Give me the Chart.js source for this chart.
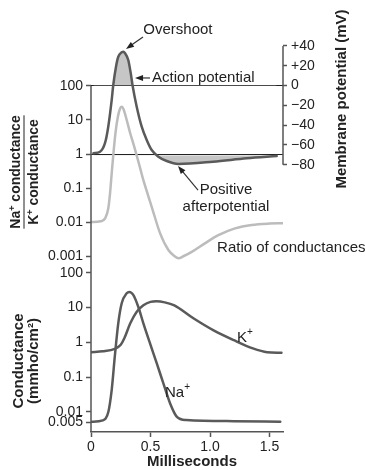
<!DOCTYPE html>
<html>
<head>
<meta charset="utf-8">
<script src="https://cdn.jsdelivr.net/npm/chart.js@4.4.0/dist/chart.umd.min.js"></script>
<style>
  html, body { margin: 0; padding: 0; background: #fff; }
  #chart { display: block; }
</style>
</head>
<body>
<canvas id="chart" width="365" height="470"></canvas>
<script>
// Action potential (membrane potential, mV) against time (ms)
const AP_MS = [0.02, 0.076, 0.118, 0.145, 0.174, 0.187, 0.21, 0.229, 0.258, 0.272, 0.286, 0.313, 0.334, 0.35, 0.384, 0.426, 0.468, 0.51, 0.566, 0.636, 0.734, 1.025, 1.308, 1.56];
const AP_MV = [-68.5, -66.9, -58, -41.6, -14.6, 0.5, 19, 29, 33.5, 34, 32.5, 25.8, 12.3, -0.5, -21.4, -41.6, -55, -65.2, -71.9, -76.3, -79.3, -77, -73.5, -71.2];

// Na+ / K+ conductance ratio
const RATIO_MS = [0, 0.08, 0.12, 0.145, 0.16, 0.175, 0.19, 0.205, 0.225, 0.245, 0.26, 0.275, 0.3, 0.33, 0.36, 0.41, 0.44, 0.48, 0.51, 0.58, 0.65, 0.7, 0.735, 0.78, 0.85, 0.96, 1.07, 1.21, 1.35, 1.5, 1.61];
const RATIO_VAL = [0.01, 0.0105, 0.013, 0.025, 0.07, 0.3, 1.2, 4, 12, 22, 24.5, 20, 10, 4, 1.8, 0.42, 0.17, 0.06, 0.028, 0.0047, 0.0015, 0.001, 0.00086, 0.001, 0.00135, 0.0024, 0.0041, 0.0065, 0.0082, 0.009, 0.0092];

// K+ conductance (mmho/cm2)
const K_MS = [0, 0.1, 0.2, 0.25, 0.28, 0.33, 0.38, 0.44, 0.5, 0.55, 0.62, 0.7, 0.86, 1.03, 1.2, 1.36, 1.48, 1.6];
const K_VAL = [0.52, 0.55, 0.65, 0.85, 1.3, 3.5, 7.2, 11.5, 14.5, 15, 14, 11.5, 4.9, 2.2, 1.15, 0.67, 0.52, 0.5];

// Na+ conductance (mmho/cm2)
const NA_MS = [0, 0.1, 0.146, 0.174, 0.2, 0.229, 0.258, 0.3, 0.322, 0.355, 0.397, 0.44, 0.496, 0.552, 0.608, 0.664, 0.72, 0.8, 1.2, 1.59];
const NA_VAL = [0.0052, 0.0057, 0.0101, 0.043, 0.39, 3.5, 13.2, 25.6, 28, 23, 10.5, 3.5, 0.93, 0.25, 0.066, 0.0177, 0.0073, 0.0058, 0.0054, 0.0052];

// tick labels
const X_TICKS = [0, 0.5, 1, 1.5];
const RATIO_TICKS = [100, 10, 1, 0.1, 0.01, 0.001];
const COND_TICKS = [100, 10, 1, 0.1, 0.01, 0.005];
const MV_TICKS = [40, 20, 0, -20, -40, -60, -80];

const REST_MV = -70.5; // level of the "1" line on the ratio axis

const FONT = '"Liberation Sans", Arial, Helvetica, sans-serif';
const DARK = '#5a5a5a';
const LIGHT = '#bcbcbc';
const FILL = '#c6c6c6';
const AXIS = '#555';
const TEXT = '#222';

Chart.defaults.font.family = FONT;
Chart.defaults.color = TEXT;

const pts = (xs, ys) => xs.map((x, i) => ({ x: x, y: ys[i] }));
const setTicks = list => scale => { scale.ticks = list.map(v => ({ value: v })); };

// axis ranges so that the decades sit where they do in the figure
const TOP = 40, SPLIT = 264, BOTTOM = 432;
const RATIO_MAX = Math.pow(10, 2 + (86 - TOP) / 34);
const RATIO_MIN = Math.pow(10, -3 - (SPLIT - 256) / 34);
const COND_MAX = Math.pow(10, 2 + (272.7 - SPLIT) / 34.8);
const COND_MIN = Math.pow(10, Math.log10(0.005) - (BOTTOM - 422.3) / 34.8);
const MV_MAX = (85.5 - TOP) / 0.99;
const MV_MIN = (85.5 - BOTTOM) / 0.99;

function arrow(ctx, x1, y1, x2, y2) {
    const a = Math.atan2(y2 - y1, x2 - x1);
    ctx.beginPath();
    ctx.moveTo(x1, y1);
    ctx.lineTo(x2 - 5 * Math.cos(a), y2 - 5 * Math.sin(a));
    ctx.stroke();
    ctx.beginPath();
    ctx.moveTo(x2, y2);
    ctx.lineTo(x2 - 8 * Math.cos(a) + 3 * Math.sin(a), y2 - 8 * Math.sin(a) - 3 * Math.cos(a));
    ctx.lineTo(x2 - 8 * Math.cos(a) - 3 * Math.sin(a), y2 - 8 * Math.sin(a) + 3 * Math.cos(a));
    ctx.closePath();
    ctx.fill();
}

// text made of [string, isSuperscript] parts
function supText(ctx, parts, x, y, size, weight, align) {
    const base = weight + ' ' + size + 'px ' + FONT;
    const small = weight + ' ' + Math.round(size * 0.65) + 'px ' + FONT;
    let w = 0;
    parts.forEach(p => { ctx.font = p[1] ? small : base; w += ctx.measureText(p[0]).width; });
    let cx = align === 'center' ? x - w / 2 : x;
    ctx.textAlign = 'left';
    parts.forEach(p => {
        ctx.font = p[1] ? small : base;
        ctx.fillText(p[0], cx, p[1] ? y - size * 0.38 : y);
        cx += ctx.measureText(p[0]).width;
    });
    return w;
}

const decor = {
    id: 'decor',
    afterDraw(chart) {
        const { ctx, chartArea, scales } = chart;
        const x = scales.x, mv = scales.mv, yR = scales.yR, yG = scales.yG;
        ctx.save();

        // axis lines
        ctx.strokeStyle = AXIS;
        ctx.lineWidth = 1.5;
        ctx.beginPath();
        ctx.moveTo(chartArea.left, yR.getPixelForValue(100));
        ctx.lineTo(chartArea.left, chartArea.bottom);
        ctx.moveTo(chartArea.right, mv.getPixelForValue(40));
        ctx.lineTo(chartArea.right, mv.getPixelForValue(-80));
        ctx.stroke();

        // annotations
        ctx.fillStyle = TEXT;
        ctx.strokeStyle = '#333';
        ctx.lineWidth = 1.2;
        ctx.textBaseline = 'middle';
        ctx.font = '15px ' + FONT;
        ctx.textAlign = 'center';
        ctx.fillText('Overshoot', x.getPixelForValue(0.73), mv.getPixelForValue(56));
        arrow(ctx, x.getPixelForValue(0.437), mv.getPixelForValue(49), x.getPixelForValue(0.294), mv.getPixelForValue(36.9));

        ctx.textAlign = 'left';
        ctx.fillText('Action potential', x.getPixelForValue(0.513), mv.getPixelForValue(7.6));
        arrow(ctx, x.getPixelForValue(0.496), mv.getPixelForValue(7.6), x.getPixelForValue(0.37), mv.getPixelForValue(7.6));

        ctx.textAlign = 'center';
        ctx.fillText('Positive', x.getPixelForValue(1.134), mv.getPixelForValue(-105.6));
        ctx.fillText('afterpotential', x.getPixelForValue(1.134), mv.getPixelForValue(-122.7));
        arrow(ctx, x.getPixelForValue(0.899), mv.getPixelForValue(-105.6), x.getPixelForValue(0.731), mv.getPixelForValue(-81.3));

        ctx.textAlign = 'left';
        ctx.fillText('Ratio of conductances', x.getPixelForValue(1.059), yR.getPixelForValue(0.00172));

        supText(ctx, [['K', false], ['+', true]], x.getPixelForValue(1.227), yG.getPixelForValue(1.33), 15, 'normal', 'left');
        supText(ctx, [['Na', false], ['+', true]], x.getPixelForValue(0.622), yG.getPixelForValue(0.035), 15, 'normal', 'left');

        // axis titles
        ctx.textBaseline = 'alphabetic';
        ctx.font = 'bold 15px ' + FONT;
        ctx.textAlign = 'center';
        ctx.fillText('Milliseconds', 192, 466);

        // left fraction title
        ctx.save();
        ctx.translate(24, 172);
        ctx.rotate(-Math.PI / 2);
        const w1 = supText(ctx, [['Na', false], ['+', true], [' conductance', false]], 0, -4, 14, 'bold', 'center');
        supText(ctx, [['K', false], ['+', true], [' conductance', false]], 0, 14, 14, 'bold', 'center');
        ctx.strokeStyle = TEXT;
        ctx.lineWidth = 1;
        ctx.beginPath();
        ctx.moveTo(-w1 / 2, 0);
        ctx.lineTo(w1 / 2, 0);
        ctx.stroke();
        ctx.restore();

        ctx.save();
        ctx.translate(23, 361);
        ctx.rotate(-Math.PI / 2);
        ctx.font = 'bold 15px ' + FONT;
        ctx.textAlign = 'center';
        ctx.fillText('Conductance', 0, 0);
        ctx.fillText('(mmho/cm\u00b2)', 0, 15);
        ctx.restore();

        ctx.save();
        ctx.translate(346, 99);
        ctx.rotate(-Math.PI / 2);
        ctx.font = 'bold 15px ' + FONT;
        ctx.textAlign = 'center';
        ctx.fillText('Membrane potential (mV)', 0, 0);
        ctx.restore();

        ctx.restore();
    }
};

const tickFont = { family: FONT, size: 14 };

new Chart(document.getElementById('chart'), {
    type: 'line',
    data: {
        datasets: [
            {
                data: pts(AP_MS, AP_MV), yAxisID: 'mv',
                borderColor: DARK, borderWidth: 2.5,
                fill: { target: { value: 0 }, above: FILL, below: 'rgba(0,0,0,0)' }
            },
            {
                data: pts(AP_MS, AP_MV), yAxisID: 'mv',
                borderWidth: 0, borderColor: 'rgba(0,0,0,0)',
                fill: { target: { value: REST_MV }, above: 'rgba(0,0,0,0)', below: FILL }
            },
            { data: pts(RATIO_MS, RATIO_VAL), yAxisID: 'yR', borderColor: LIGHT, borderWidth: 2.5 },
            { data: pts(K_MS, K_VAL), yAxisID: 'yG', borderColor: DARK, borderWidth: 2.5 },
            { data: pts(NA_MS, NA_VAL), yAxisID: 'yG', borderColor: DARK, borderWidth: 2.5 }
        ]
    },
    options: {
        responsive: false,
        animation: false,
        devicePixelRatio: 1,
        layout: { padding: { top: TOP, left: 0, right: 0, bottom: 0 } },
        elements: {
            point: { radius: 0 },
            line: { cubicInterpolationMode: 'monotone', borderCapStyle: 'round' }
        },
        plugins: { legend: { display: false }, tooltip: { enabled: false } },
        scales: {
            x: {
                type: 'linear', position: 'bottom', min: 0, max: 1.613,
                afterBuildTicks: setTicks(X_TICKS),
                afterFit: s => { s.height = 470 - BOTTOM; },
                ticks: { font: tickFont, padding: 2, autoSkip: false, maxRotation: 0,
                         callback: v => v === 0 ? '0' : v.toFixed(1) },
                grid: { drawOnChartArea: false, tickLength: 5, tickColor: AXIS, tickWidth: 1.5 },
                border: { color: AXIS, width: 1.5 }
            },
            // the left stack is laid out from the last scale down, so the lower panel comes first
            yG: {
                type: 'logarithmic', position: 'left', stack: 'left', stackWeight: BOTTOM - SPLIT,
                min: COND_MIN, max: COND_MAX,
                afterBuildTicks: setTicks(COND_TICKS),
                afterFit: s => { s.width = 91; },
                ticks: { font: tickFont, padding: 3, autoSkip: false, callback: v => String(v) },
                grid: { drawOnChartArea: false, tickLength: 5, tickColor: AXIS, tickWidth: 1.5 },
                border: { display: false }
            },
            yR: {
                type: 'logarithmic', position: 'left', stack: 'left', stackWeight: SPLIT - TOP,
                min: RATIO_MIN, max: RATIO_MAX,
                afterBuildTicks: setTicks(RATIO_TICKS),
                afterFit: s => { s.width = 91; },
                ticks: { font: tickFont, padding: 3, autoSkip: false, callback: v => String(v) },
                grid: {
                    tickLength: 5, tickColor: AXIS, tickWidth: 1.5, lineWidth: 1,
                    color: c => (c.tick && (c.tick.value === 100 || c.tick.value === 1)) ? '#222' : 'rgba(0,0,0,0)'
                },
                border: { display: false }
            },
            mv: {
                type: 'linear', position: 'right', min: MV_MIN, max: MV_MAX,
                afterBuildTicks: setTicks(MV_TICKS),
                afterFit: s => { s.width = 365 - 283; },
                ticks: { font: tickFont, padding: 4, autoSkip: false,
                         callback: v => v > 0 ? '+' + v : (v < 0 ? '\u2212' + (-v) : '0') },
                grid: { drawOnChartArea: false, tickLength: 4, tickColor: AXIS, tickWidth: 1.5 },
                border: { display: false }
            }
        }
    },
    plugins: [decor]
});
</script>
</body>
</html>
